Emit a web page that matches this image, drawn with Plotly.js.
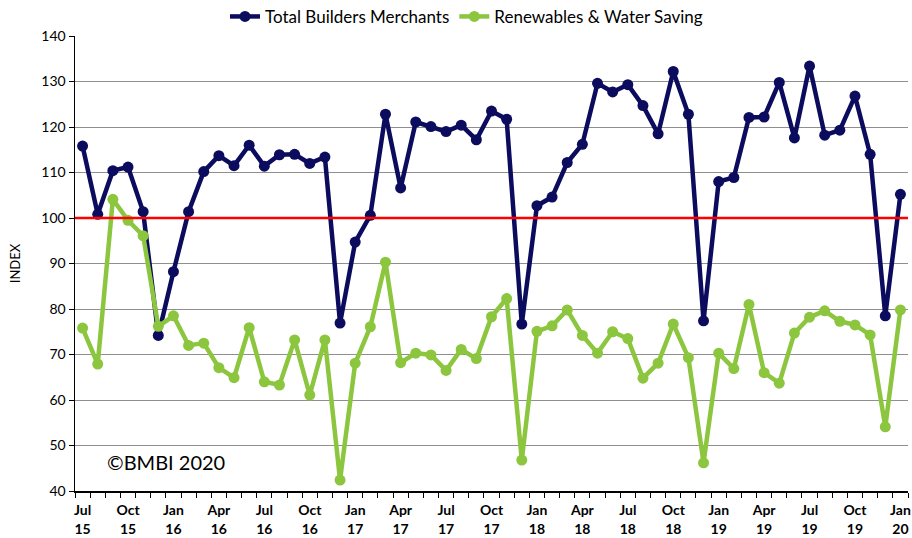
<!DOCTYPE html>
<html>
<head>
<meta charset="utf-8">
<script src="https://cdn.plot.ly/plotly-3.0.1.min.js"></script>
<style>html,body{margin:0;padding:0;background:#fff}#chart{width:912px;height:538px}</style>
</head>
<body>
<div id="chart"></div>
<script>
// Monthly labels Jul 2015 .. Jan 2020
const monthNames = ["Jul","Aug","Sep","Oct","Nov","Dec","Jan","Feb","Mar","Apr","May","Jun"];
const months = [];
(function(){ let y = 15; for (let i = 0; i < 55; i++) { const m = monthNames[i % 12]; if (m === "Jan" && i > 0) y++; months.push(m + " " + y); } })();

const totalBuildersMerchants = [
  115.8, 100.8, 110.4, 111.2, 101.4, 74.2, 88.2, 101.4, 110.2, 113.7,
  111.5, 116.0, 111.4, 113.9, 114.0, 112.0, 113.4, 76.9, 94.7, 100.6,
  122.8, 106.6, 121.1, 120.1, 119.0, 120.4, 117.2, 123.5, 121.7, 76.7,
  102.7, 104.6, 112.2, 116.2, 129.6, 127.7, 129.3, 124.7, 118.5, 132.2,
  122.8, 77.4, 108.0, 108.9, 122.1, 122.2, 129.8, 117.6, 133.4, 118.2,
  119.3, 126.8, 114.0, 78.5, 105.2
];
const renewablesWaterSaving = [
  75.8, 67.9, 104.1, 99.5, 96.1, 76.2, 78.5, 72.0, 72.5, 67.1,
  64.9, 75.9, 64.0, 63.3, 73.2, 61.1, 73.2, 42.4, 68.1, 76.1,
  90.3, 68.2, 70.3, 69.9, 66.5, 71.1, 69.1, 78.3, 82.3, 46.8,
  75.1, 76.3, 79.8, 74.2, 70.3, 75.0, 73.5, 64.8, 68.1, 76.7,
  69.3, 46.2, 70.3, 66.9, 81.0, 66.0, 63.7, 74.7, 78.2, 79.6,
  77.3, 76.5, 74.3, 54.1, 79.8
];
const baseline = 100;
const seriesNames = ["Total Builders Merchants", "Renewables & Water Saving"];
const seriesColors = ["#0c0c5e", "#8cc63f"];

const xIdx = months.map((_, i) => i);
const tickVals = xIdx.filter(i => i % 3 === 0);
const tickText = tickVals.map(i => months[i].replace(" ", "<br>"));

const font = "Lato, 'Open Sans', sans-serif";

const traces = [totalBuildersMerchants, renewablesWaterSaving].map((vals, k) => ({
  x: xIdx, y: vals, name: seriesNames[k], type: "scatter", mode: "lines+markers",
  line: {color: seriesColors[k], width: 4.5},
  marker: {color: seriesColors[k], size: 11},
  hoverinfo: "x+y"
}));

const layout = {
  width: 912, height: 538,
  margin: {l: 75, r: 4, t: 36, b: 47, autoexpand: false},
  paper_bgcolor: "#fff", plot_bgcolor: "#fff",
  font: {family: font, color: "#000"},
  showlegend: true,
  legend: {orientation: "h", x: 0.47, xanchor: "center", y: 1.042, yanchor: "middle",
           yref: "paper", font: {size: 17, color: "#000"}, itemwidth: 30, tracegroupgap: 0, bgcolor: "rgba(0,0,0,0)"},
  xaxis: {
    range: [-0.5, 54.5], showgrid: false, zeroline: false,
    showline: true, linecolor: "#000", linewidth: 1.5,
    tickmode: "array", tickvals: tickVals, ticktext: tickText,
    ticks: "", ticklabelstandoff: 6,
    tickfont: {family: font, size: 14, color: "#000", weight: "bold"},
    minor: {tickmode: "linear", tick0: -0.5, dtick: 1, ticks: "outside", ticklen: 5, tickcolor: "#000", tickwidth: 1, showgrid: false}
  },
  yaxis: {
    range: [40, 140], dtick: 10, tick0: 40,
    showgrid: true, gridcolor: "#8f8f8f", gridwidth: 1,
    zeroline: false, showline: true, linecolor: "#000", linewidth: 1.5,
    ticks: "outside", ticklen: 5, tickcolor: "#000",
    tickfont: {family: font, size: 14, color: "#000"},
    title: {text: "INDEX", font: {family: font, size: 13, color: "#000"}, standoff: 18}
  },
  shapes: [{type: "line", xref: "paper", x0: 0, x1: 1, yref: "y", y0: baseline, y1: baseline,
            line: {color: "#ff0000", width: 2.5}, layer: "above"}],
  annotations: [{text: "©BMBI 2020", xref: "paper", yref: "paper", x: 0.036, y: 0.064,
                 xanchor: "left", yanchor: "middle", showarrow: false,
                 font: {family: font, size: 20, color: "#000"}}]
};

Plotly.newPlot("chart", traces, layout, {displayModeBar: false, staticPlot: true});
</script>
</body>
</html>
